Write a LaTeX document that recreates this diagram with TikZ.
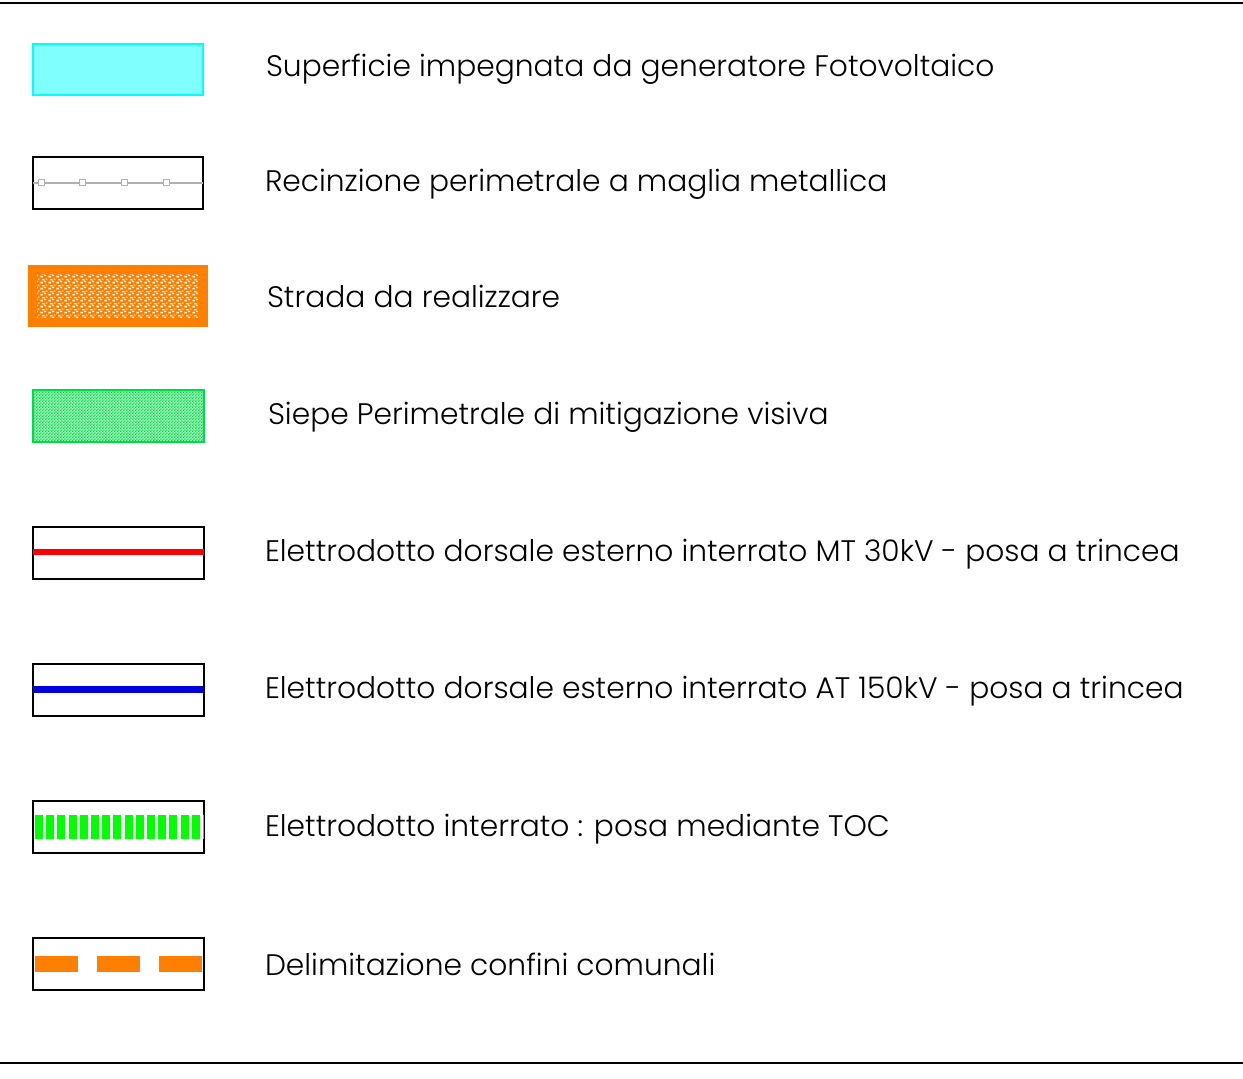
\documentclass[tikz,border=0pt]{standalone}
\usepackage{fontspec}
\setmainfont{Poppins Light}
\usetikzlibrary{patterns}
\definecolor{ciano}{HTML}{80FFFF}
\definecolor{cianobordo}{HTML}{00FFFF}
\definecolor{arancio}{HTML}{FF8000}
\definecolor{verdesiepe}{HTML}{00DD44}
\definecolor{verdetoc}{HTML}{00FF00}
\definecolor{blu}{HTML}{0000DD}
\definecolor{rete}{HTML}{B0B0B0}
\pgfdeclarepatternformonly{minischacchi}{\pgfpointorigin}{\pgfqpoint{1.4pt}{1.4pt}}{\pgfqpoint{1.4pt}{1.4pt}}{%
  \pgfpathrectangle{\pgfpointorigin}{\pgfqpoint{0.7pt}{0.7pt}}%
  \pgfpathrectangle{\pgfqpoint{0.7pt}{0.7pt}}{\pgfqpoint{0.7pt}{0.7pt}}%
  \pgfusepath{fill}}
\pgfdeclarepatternformonly{puntinato}{\pgfpointorigin}{\pgfqpoint{4.1pt}{2.9pt}}{\pgfqpoint{4.1pt}{2.9pt}}{%
  \pgfpathrectangle{\pgfqpoint{0.2pt}{0.3pt}}{\pgfqpoint{1.4pt}{0.8pt}}%
  \pgfpathrectangle{\pgfqpoint{2.3pt}{0.9pt}}{\pgfqpoint{1.1pt}{0.7pt}}%
  \pgfpathrectangle{\pgfqpoint{1.1pt}{1.8pt}}{\pgfqpoint{1.4pt}{0.7pt}}%
  \pgfpathrectangle{\pgfqpoint{3.2pt}{2.2pt}}{\pgfqpoint{0.8pt}{0.6pt}}%
  \pgfusepath{fill}}
\begin{document}
\begin{tikzpicture}[x=0.5pt, y=-0.5pt,
  every node/.style={inner sep=0pt, outer sep=0pt},
  box/.style={draw=black, line width=1pt, minimum width=85.5pt, minimum height=26pt},
  voce/.style={anchor=base west, font=\fontsize{14.85}{17}\selectfont}]
\useasboundingbox (0,0) rectangle (1243,1079);
\draw[line width=1pt] (0,3.5) -- (1243,3.5);
\draw[line width=1pt] (0,1062.5) -- (1243,1062.5);

% riquadri
\node[box, draw=cianobordo, fill=ciano, minimum width=85pt, minimum height=25.5pt] (s1) at (118,69.5) {};
\node[box, minimum width=85pt] (s2) at (118,183) {};
\node[box, draw=arancio, fill=arancio, minimum width=89pt, minimum height=30pt] (s3) at (118,296) {};
\node[pattern=puntinato, pattern color=white, minimum width=80.5pt, minimum height=21.5pt] (s3i) at (117.5,296.5) {};
\node[box, draw=verdesiepe, fill=verdesiepe!30!white, minimum width=85.5pt, minimum height=26pt] (s4) at (118.5,416) {};
\node[pattern=minischacchi, pattern color=verdesiepe, minimum width=84.5pt, minimum height=25pt] (s4i) at (118.5,416) {};
\node[box] (s5) at (118.5,553) {};
\node[box] (s6) at (118.5,690) {};
\node[box] (s7) at (118.5,827) {};
\node[box] (s8) at (118.5,964) {};

% segni
\draw[rete, line width=0.6pt] (s2.west) -- (s2.east);
\foreach \x in {41,82,124,166}
  \node[draw=rete, fill=white, line width=0.5pt, minimum size=3pt] (q\x) at (\x,183) {};
\draw[red, line width=3pt] ([yshift=0.5pt]s5.west) -- ([yshift=0.5pt]s5.east);
\draw[blu, line width=3.5pt] (s6.west) -- (s6.east);
\draw[verdetoc, line width=12pt, dash pattern=on 4pt off 1.6pt] ([xshift=1pt]s7.west) -- (s7.east);
\draw[arancio, line width=8pt, dash pattern=on 21.5pt off 9.5pt] ([xshift=1pt]s8.west) -- (s8.east);

% testi
\node[voce] (t1) at (266,76.5) {Superficie impegnata da generatore Fotovoltaico};
\node[voce] (t2) at (265,192) {Recinzione perimetrale a maglia metallica};
\node[voce] (t3) at (267,308) {Strada da realizzare};
\node[voce] (t4) at (268,425) {Siepe Perimetrale di mitigazione visiva};
\node[voce] (t5) at (265,562) {Elettrodotto dorsale esterno interrato MT 30kV - posa a trincea};
\node[voce] (t6) at (265,699) {Elettrodotto dorsale esterno interrato AT 150kV - posa a trincea};
\node[voce] (t7) at (265,836) {Elettrodotto interrato : posa mediante TOC};
\node[voce] (t8) at (265,975) {Delimitazione confini comunali};
\end{tikzpicture}
\end{document}
